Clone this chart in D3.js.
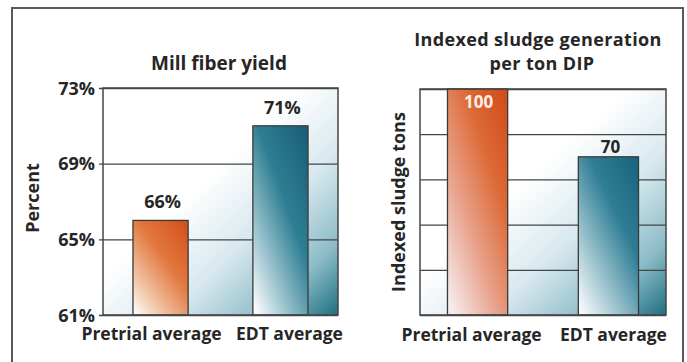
<!DOCTYPE html>
<html>
<head>
<meta charset="utf-8">
<script src="https://cdn.jsdelivr.net/npm/d3@7"></script>
<style>
  html, body { margin: 0; padding: 0; background: #fff; }
  svg { display: block; }
  text { font-family: "Open Sans", "DejaVu Sans", sans-serif; font-weight: 700; fill: #262626; }
</style>
</head>
<body>
<svg id="chart" width="687" height="362"></svg>
<script>
// Categories shared by both panels
const categories = ["Pretrial average", "EDT average"];

// Panel 1: mill fiber yield (percent)
const yieldValues = [66, 71];
const yieldTicks = [61, 65, 69, 73];
const yieldTickLabels = ["61%", "65%", "69%", "73%"];
const yieldValueLabels = ["66%", "71%"];

// Panel 2: indexed sludge generation per ton DIP
const sludgeValues = [100, 70];
const sludgeTicks = [0, 20, 40, 60, 80, 100];
const sludgeValueLabels = ["100", "70"];

const svg = d3.select("#chart");
const defs = svg.append("defs");

// Plot background: white in the upper left, teal toward the lower right
function backgroundGradient(id) {
  const g = defs.append("linearGradient").attr("id", id)
    .attr("x1", 0).attr("y1", 0).attr("x2", 1).attr("y2", 1);
  [[0, "#ffffff"], [0.42, "#ffffff"], [0.64, "#d8e8ee"], [0.84, "#8dbcc8"], [1, "#1f6f80"]]
    .forEach(([o, c]) => g.append("stop").attr("offset", o).attr("stop-color", c));
}
backgroundGradient("bgL");
backgroundGradient("bgR");

// Bar fills fade from a saturated top to near white at the lower left
function barGradient(id, stops) {
  const g = defs.append("linearGradient").attr("id", id)
    .attr("x1", 0.9).attr("y1", 0).attr("x2", 0.1).attr("y2", 1);
  stops.forEach(([o, c]) => g.append("stop").attr("offset", o).attr("stop-color", c));
}
barGradient("orangeL", [[0, "#d4521d"], [0.4, "#e2773f"], [0.78, "#f1c4a4"], [1, "#fdf6f1"]]);
barGradient("tealL", [[0, "#1a6078"], [0.4, "#2e7f93"], [0.78, "#a9cbd5"], [1, "#f6f9fb"]]);
barGradient("orangeR", [[0, "#d24e1c"], [0.3, "#dd6a37"], [0.65, "#e8a48e"], [1, "#f6ecee"]]);
barGradient("tealR", [[0, "#1b6580"], [0.35, "#2f7e95"], [0.75, "#a7cad3"], [1, "#f5f7f9"]]);

// Outer frame
svg.append("rect")
  .attr("x", 12).attr("y", 8).attr("width", 671).attr("height", 370)
  .attr("fill", "none").attr("stroke", "#5a5a5a").attr("stroke-width", 2);

function panel(opts) {
  const { left, right, top, bottom, domain, ticks, values, fills, bg,
          padIn, padOut } = opts;
  const g = svg.append("g");

  const x = d3.scaleBand().domain(categories).range([left, right])
    .paddingInner(padIn).paddingOuter(padOut);
  const y = d3.scaleLinear().domain(domain).range([bottom, top]);

  // Background
  g.append("rect")
    .attr("x", left).attr("y", top)
    .attr("width", right - left).attr("height", bottom - top)
    .attr("fill", `url(#${bg})`);

  // Gridlines (with short outer ticks when labelled)
  const axis = d3.axisLeft(y).tickValues(ticks)
    .tickSize(-(right - left)).tickSizeOuter(0)
    .tickFormat(opts.tickLabels ? (d, i) => opts.tickLabels[i] : "");
  const ax = g.append("g").attr("transform", `translate(${left},0)`).call(axis);
  ax.select(".domain").remove();
  ax.selectAll(".tick line").attr("stroke", "#454545").attr("stroke-width", 1.3)
    .attr("x1", opts.tickLabels ? -4 : 0);
  ax.selectAll(".tick text")
    .attr("x", -8).attr("dy", "0.35em")
    .style("font-family", "'Open Sans', sans-serif").style("font-weight", 700)
    .style("font-size", "18px").attr("fill", "#262626");

  // Bars
  g.selectAll("rect.bar").data(values).join("rect")
    .attr("class", "bar")
    .attr("x", (d, i) => x(categories[i]))
    .attr("width", x.bandwidth())
    .attr("y", d => y(d))
    .attr("height", d => y(domain[0]) - y(d))
    .attr("fill", (d, i) => `url(#${fills[i]})`)
    .attr("stroke", "#3a3a3a").attr("stroke-width", 1.3);

  // Plot border
  g.append("rect")
    .attr("x", left).attr("y", top)
    .attr("width", right - left).attr("height", bottom - top)
    .attr("fill", "none").attr("stroke", "#454545").attr("stroke-width", 1.5);

  return { g, x, y };
}

// ---- Panel 1 ----
const p1 = panel({
  left: 103, right: 338, top: 88, bottom: 315,
  domain: [61, 73], ticks: yieldTicks, tickLabels: yieldTickLabels,
  values: yieldValues, fills: ["orangeL", "tealL"], bg: "bgL",
  padIn: 0.54, padOut: 0.25
});

p1.g.selectAll("text.val").data(yieldValues).join("text")
  .attr("class", "val")
  .attr("x", (d, i) => p1.x(categories[i]) + p1.x.bandwidth() / 2 + 2)
  .attr("y", d => p1.y(d) - 12)
  .attr("text-anchor", "middle").style("font-size", "18px")
  .text((d, i) => yieldValueLabels[i]);

p1.g.selectAll("text.cat").data(categories).join("text")
  .attr("class", "cat")
  .attr("x", (d, i) => p1.x(d) + p1.x.bandwidth() / 2 + (i === 0 ? -9 : 9))
  .attr("y", 340)
  .attr("text-anchor", "middle").style("font-size", "17.5px")
  .text(d => d);

p1.g.append("text")
  .attr("x", 219).attr("y", 70)
  .attr("text-anchor", "middle").style("font-size", "19px")
  .text("Mill fiber yield");

p1.g.append("text")
  .attr("transform", "translate(39,198) rotate(-90)")
  .attr("text-anchor", "middle").style("font-size", "18px")
  .text("Percent");

// ---- Panel 2 ----
const p2 = panel({
  left: 420, right: 666, top: 89, bottom: 315,
  domain: [0, 100], ticks: sludgeTicks, tickLabels: null,
  values: sludgeValues, fills: ["orangeR", "tealR"], bg: "bgR",
  padIn: 0.54, padOut: 0.21
});

p2.g.selectAll("text.val").data(sludgeValues).join("text")
  .attr("class", "val")
  .attr("x", (d, i) => p2.x(categories[i]) + p2.x.bandwidth() / 2 + (i === 0 ? 1 : 2))
  .attr("y", (d, i) => i === 0 ? p2.y(d) + 19 : p2.y(d) - 4)
  .attr("text-anchor", "middle").style("font-size", "17px")
  .style("fill", (d, i) => i === 0 ? "#fbeee6" : "#262626")
  .text((d, i) => sludgeValueLabels[i]);

p2.g.selectAll("text.cat").data(categories).join("text")
  .attr("class", "cat")
  .attr("x", (d, i) => p2.x(d) + p2.x.bandwidth() / 2 + (i === 0 ? -6 : 5))
  .attr("y", 341)
  .attr("text-anchor", "middle").style("font-size", "17.5px")
  .text(d => d);

// Two-line title
p2.g.append("text")
  .attr("x", 538).attr("y", 45.5)
  .attr("text-anchor", "middle").style("font-size", "18px")
  .style("letter-spacing", "0.35px")
  .text("Indexed sludge generation");
p2.g.append("text")
  .attr("x", 542).attr("y", 70)
  .attr("text-anchor", "middle").style("font-size", "18px")
  .style("letter-spacing", "0.35px")
  .text("per ton DIP");

p2.g.append("text")
  .attr("transform", "translate(405,202) rotate(-90)")
  .attr("text-anchor", "middle").style("font-size", "18px")
  .text("Indexed sludge tons");
</script>
</body>
</html>
